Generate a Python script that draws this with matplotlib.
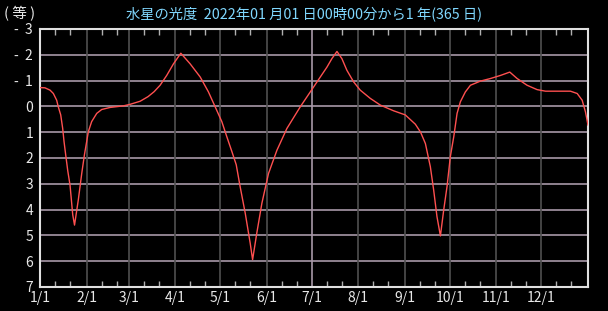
import matplotlib
matplotlib.use('Agg')
import matplotlib.pyplot as plt

plt.rcParams['font.family'] = ['Noto Sans CJK JP', 'DejaVu Sans']

# Mercury magnitude, day index from 2022-01-01
days = [0, 3.3, 6.7, 8.9, 11.1, 12.2, 13.8, 15.1, 16, 17.1, 18.5, 20, 21.8, 23,
        25.5, 27.8, 29.6, 31.1, 32.2, 34.4, 37.8, 41.1, 46.7, 55.5, 60, 66.7,
        72, 76, 80, 84.4, 88.9, 93.8, 100, 106.7, 112.2, 116.7, 121.1, 124.4,
        127.8, 130.7, 133.3, 136.7, 140, 141.6, 144.4, 147.8, 152.2, 157.8,
        164.4, 173.3, 182.2, 186.7, 191.1, 194.4, 197.8, 201.1, 204.4, 208.9,
        213.3, 220, 226.7, 235.5, 243.3, 250, 253.5, 256.7, 260, 262.2, 264.4,
        266.7, 268.9, 271.1, 273.3, 275.6, 277.8, 280, 283.3, 286.7, 293.3,
        300, 306.7, 312.9, 317.8, 324.4, 331.1, 336.7, 353.3, 357.8, 361.1,
        363.3, 365]
mags = [-0.73, -0.72, -0.63, -0.5, -0.24, 0.02, 0.33, 0.85, 1.36, 1.87, 2.5,
        3.05, 4.2, 4.6, 3.63, 2.6, 1.87, 1.36, 0.98, 0.59, 0.27, 0.12, 0.04,
        -0.02, -0.08, -0.2, -0.38, -0.57, -0.82, -1.2, -1.65, -2.06, -1.65,
        -1.14, -0.56, 0.02, 0.59, 1.17, 1.75, 2.26, 3.11, 4.14, 5.3, 5.94,
        4.91, 3.75, 2.6, 1.7, 0.86, 0.02, -0.75, -1.14, -1.52, -1.85, -2.13,
        -1.85, -1.4, -0.95, -0.63, -0.31, -0.05, 0.17, 0.33, 0.69, 1.0, 1.44,
        2.34, 3.24, 4.27, 5.02, 4.01, 3.11, 1.95, 1.17, 0.27, -0.18, -0.56,
        -0.82, -0.98, -1.08, -1.2, -1.33, -1.08, -0.82, -0.65, -0.59, -0.59,
        -0.5, -0.24, 0.21, 0.72]

month_starts = [0, 31, 59, 90, 120, 151, 181, 212, 243, 273, 304, 334]
month_labels = ['1/1', '2/1', '3/1', '4/1', '5/1', '6/1', '7/1', '8/1', '9/1',
                '10/1', '11/1', '12/1']
mag_ticks = [-3, -2, -1, 0, 1, 2, 3, 4, 5, 6, 7]
mag_labels = ['-  3', '-  2', '-  1', '0', '1', '2', '3', '4', '5', '6', '7']

W, H = 608, 311
fig = plt.figure(figsize=(W / 100, H / 100), dpi=100, facecolor='black')
ax = fig.add_axes([40 / W, (H - 287) / H, 548 / W, 258 / H], facecolor='black')

grid_light = '#a898a8'
grid_dark = '#505050'
text_col = '#e8e8e8'

# grid
for m in mag_ticks[1:-1]:
    ax.axhline(m, color=grid_light, lw=1.2, zorder=1)
for d in month_starts[1:]:
    ax.axvline(d, color=grid_light if d == 181 else grid_dark, lw=1.2, zorder=1)

ax.plot(days, mags, color='#ff5050', lw=1.0, zorder=3)

ax.set_xlim(0, 365)
ax.set_ylim(7, -3)

ax.set_xticks(month_starts)
ax.set_xticklabels(month_labels)
minor = [s + k for s in month_starts for k in (10, 20)]
ax.set_xticks(minor, minor=True)
ax.tick_params(axis='x', which='major', length=0, pad=3, colors=text_col, labelsize=10)
ax.tick_params(axis='x', which='minor', direction='in', length=4, top=True,
               bottom=True, color='#b0b0b0', width=1)
ax.set_yticks(mag_ticks)
ax.set_yticklabels(mag_labels)
ax.tick_params(axis='y', length=0, pad=5, colors=text_col, labelsize=10)

for s in ax.spines.values():
    s.set_color('#e0e0e0')
    s.set_linewidth(1.5)

fig.text(4 / W, 1 - 14 / H, '( 等 )', color=text_col, fontsize=10.5, va='center', ha='left')
fig.text(304 / W, 1 - 14 / H, '水星の光度  2022年01 月01 日00時00分から1 年(365 日)',
         color='#80d8ff', fontsize=10.3, va='center', ha='center')

fig.savefig('out.png', dpi=100, facecolor='black')
